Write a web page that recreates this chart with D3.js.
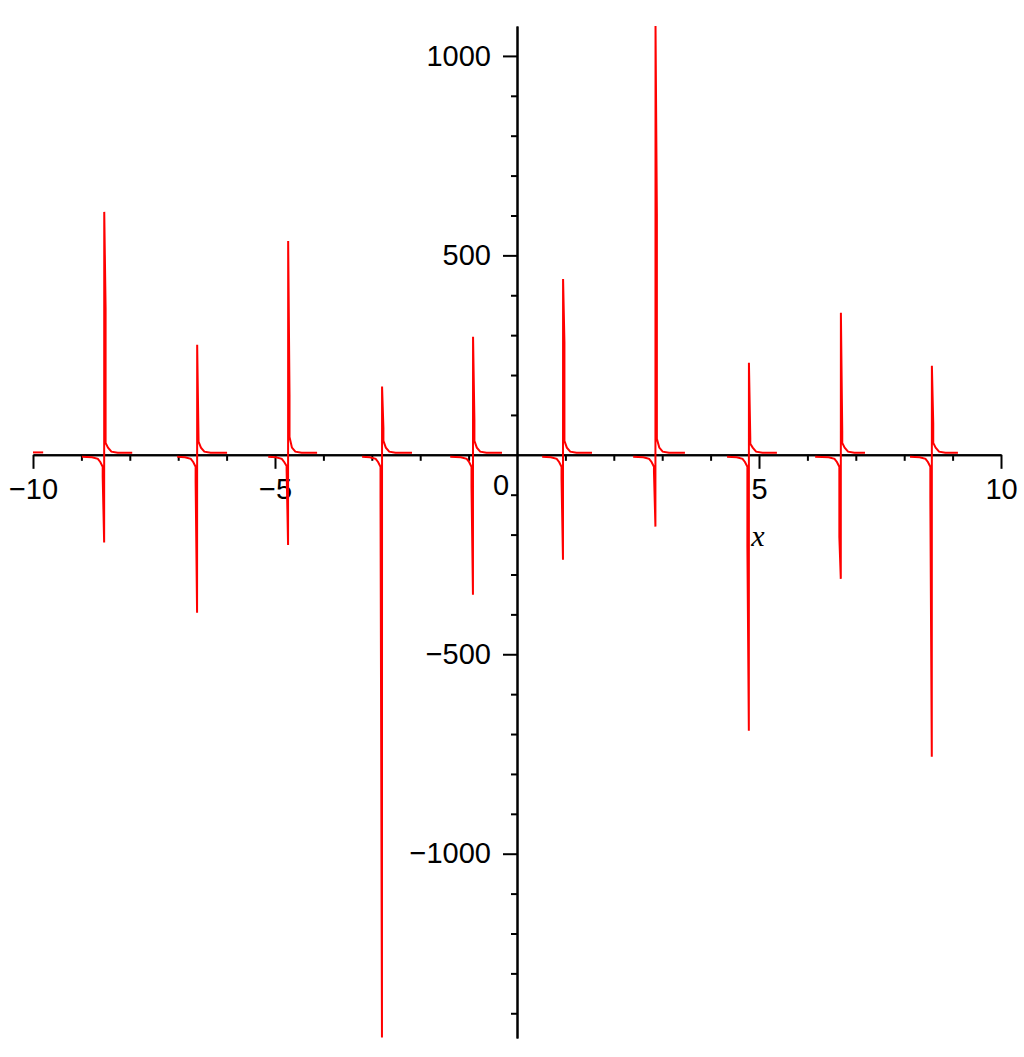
<!DOCTYPE html>
<html><head><meta charset="utf-8">
<script src="https://cdn.jsdelivr.net/npm/d3@7"></script>
<style>html,body{margin:0;padding:0;background:#fff;}</style>
</head><body>
<svg id="c" width="1024" height="1057"></svg>
<script>
// axis ranges
const xDomain = [-10, 10];
const yDomain = [-1462, 1075];
const xMajorTicks = [-10, -5, 5, 10];
const xMajorLabels = ["\u221210", "\u22125", "5", "10"];
const xMinorTicks = [-9, -8, -7, -6, -4, -3, -2, -1, 1, 2, 3, 4, 6, 7, 8, 9];
const yMajorTicks = [1000, 500, -500, -1000];
const yMajorLabels = ["1000", "500", "\u2212500", "\u22121000"];
const yMinorTicks = [900, 800, 700, 600, 400, 300, 200, 100, -100, -200, -300, -400, -600, -700, -800, -900, -1100, -1200, -1300, -1400];
const xTitle = "x";

// curve pieces, [x, y]
const seg0 = [[-10, 6], [-9.79, 6]];
const seg1 = [[-8.99,-5],[-8.78,-6],[-8.66,-10],[-8.61,-18],[-8.56,-30],[-8.56,-55],[-8.53,-220],[-8.528,609],[-8.50,368],[-8.50,30],[-8.45,18],[-8.38,8],[-8.25,5],[-7.95,5]];
const seg2 = [[-7.02,-5],[-6.86,-6],[-6.74,-10],[-6.69,-18],[-6.64,-30],[-6.64,-68],[-6.61,-396],[-6.608,276],[-6.58,40],[-6.58,33],[-6.53,18],[-6.46,8],[-6.33,5],[-5.99,5]];
const seg3 = [[-5.14,-5],[-4.98,-6],[-4.86,-10],[-4.81,-18],[-4.76,-28],[-4.76,-38],[-4.73,-226],[-4.728,536],[-4.70,150],[-4.70,45],[-4.65,18],[-4.58,8],[-4.45,5],[-4.13,5]];
const seg4 = [[-3.20,-5],[-3.04,-6],[-2.92,-10],[-2.87,-18],[-2.82,-30],[-2.82,-108],[-2.79,-1461],[-2.788,171],[-2.76,68],[-2.76,35],[-2.71,18],[-2.64,8],[-2.51,5],[-2.17,5]];
const seg5 = [[-1.38,-5],[-1.16,-6],[-1.04,-10],[-0.99,-18],[-0.94,-30],[-0.94,-80],[-0.91,-351],[-0.908,296],[-0.88,88],[-0.88,35],[-0.83,18],[-0.76,8],[-0.63,5],[-0.31,5]];
const seg6 = [[0.52,-5],[0.70,-6],[0.82,-10],[0.87,-18],[0.92,-30],[0.92,-60],[0.95,-263],[0.952,441],[0.98,283],[0.98,35],[1.03,18],[1.10,8],[1.23,5],[1.55,5]];
const seg7 = [[2.40,-5],[2.61,-6],[2.73,-10],[2.78,-18],[2.83,-30],[2.83,-43],[2.86,-180],[2.862,1075],[2.89,604],[2.89,40],[2.94,18],[3.01,8],[3.14,5],[3.47,5]];
const seg8 = [[4.34,-5],[4.54,-6],[4.66,-10],[4.71,-18],[4.76,-30],[4.76,-230],[4.79,-692],[4.792,231],[4.82,43],[4.82,28],[4.87,18],[4.94,8],[5.07,5],[5.37,5]];
const seg9 = [[6.16,-5],[6.44,-6],[6.56,-10],[6.61,-18],[6.66,-30],[6.66,-206],[6.69,-311],[6.692,356],[6.72,60],[6.72,30],[6.77,18],[6.84,8],[6.97,5],[7.19,5]];
const seg10 = [[8.12,-5],[8.32,-6],[8.44,-10],[8.49,-18],[8.54,-30],[8.54,-108],[8.57,-757],[8.572,223],[8.60,80],[8.60,30],[8.65,18],[8.72,8],[8.85,5],[9.11,5]];
const segments = [seg0, seg1, seg2, seg3, seg4, seg5, seg6, seg7, seg8, seg9, seg10];

const svg = d3.select("#c");
svg.append("rect").attr("width", 1024).attr("height", 1057).attr("fill", "#fff");

const x = d3.scaleLinear().domain(xDomain).range([33, 1001]);
const y = d3.scaleLinear().domain(yDomain).range([1038, 26]);
const font = "'Liberation Sans', Arial, sans-serif";
const fs = 29;

function styleAxis(g) {
  g.select(".domain").attr("stroke", "#000").attr("stroke-width", 2);
  g.selectAll(".tick line").attr("stroke", "#000").attr("stroke-width", 2);
  g.selectAll(".tick text").attr("fill", "#000").attr("font-family", font).attr("font-size", fs);
}

const y0 = x(0), x0 = y(0);
const gyMinor = svg.append("g").attr("transform", `translate(${y0},0)`)
  .call(d3.axisLeft(y).tickValues(yMinorTicks).tickSize(6).tickSizeOuter(0).tickFormat(""));
styleAxis(gyMinor);
const gyMajor = svg.append("g").attr("transform", `translate(${y0},0)`)
  .call(d3.axisLeft(y).tickValues(yMajorTicks).tickSize(14).tickSizeOuter(0).tickPadding(12)
    .tickFormat((d, i) => yMajorLabels[i]));
styleAxis(gyMajor);

const gxMinor = svg.append("g").attr("transform", `translate(0,${x0})`)
  .call(d3.axisBottom(x).tickValues(xMinorTicks).tickSize(6).tickSizeOuter(0).tickFormat(""));
styleAxis(gxMinor);
const gxMajor = svg.append("g").attr("transform", `translate(0,${x0})`)
  .call(d3.axisBottom(x).tickValues(xMajorTicks).tickSize(14).tickSizeOuter(0).tickPadding(10)
    .tickFormat((d, i) => xMajorLabels[i]));
styleAxis(gxMajor);

svg.append("text").attr("x", y0 - 16).attr("y", x0 + 40).attr("text-anchor", "middle")
  .attr("font-family", font).attr("font-size", fs).attr("fill", "#000").text("0");
svg.append("text").attr("x", x(5) - 1).attr("y", x0 + 91).attr("text-anchor", "middle")
  .attr("font-family", "'Liberation Serif', 'Times New Roman', serif").attr("font-style", "italic")
  .attr("font-size", 30).attr("fill", "#000").text(xTitle);

const line = d3.line().x(d => x(d[0])).y(d => y(d[1]));
svg.append("g").selectAll("path").data(segments).join("path")
  .attr("d", line).attr("fill", "none").attr("stroke", "#ff0000").attr("stroke-width", 2);
</script>
</body></html>
